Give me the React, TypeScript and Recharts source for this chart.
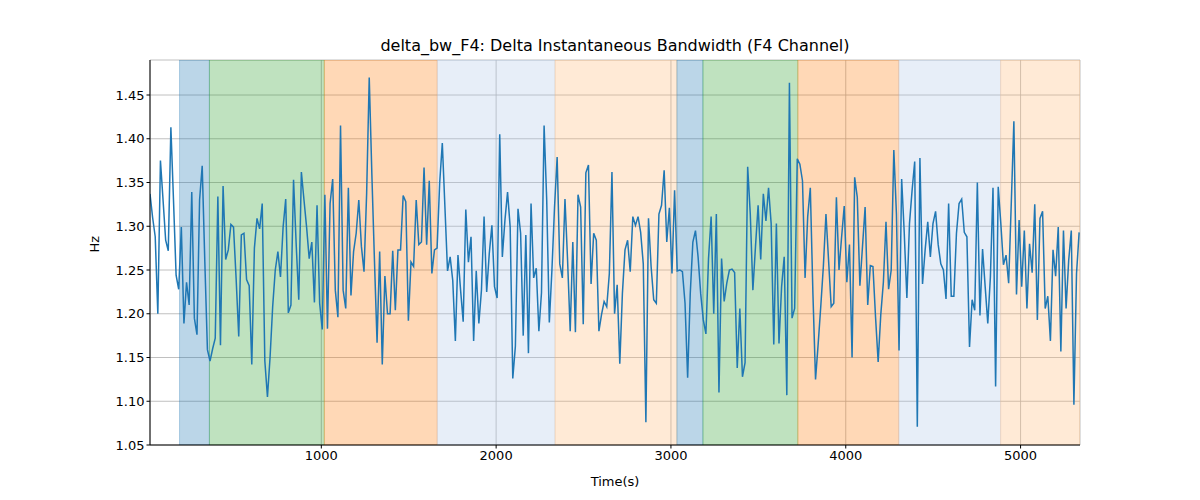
import { LineChart, Line, XAxis, YAxis, CartesianGrid, ReferenceArea } from "recharts";

// delta bandwidth values (Hz), sampled at a constant step from T_START to T_END
const T_START = 20;
const T_END = 5335;

const bwValues: number[] = [
    1.337, 1.31, 1.288, 1.2, 1.375, 1.33, 1.284, 1.272, 1.413, 1.33, 1.244, 1.228, 1.299, 1.189, 1.236, 1.21, 1.339,
    1.195, 1.176, 1.33, 1.369, 1.26, 1.159, 1.146, 1.16, 1.172, 1.334, 1.164, 1.346, 1.262, 1.273, 1.302, 1.299, 1.24,
    1.174, 1.29, 1.292, 1.239, 1.232, 1.142, 1.275, 1.309, 1.297, 1.326, 1.146, 1.105, 1.15, 1.208, 1.25, 1.271, 1.242,
    1.299, 1.331, 1.201, 1.21, 1.353, 1.28, 1.216, 1.362, 1.33, 1.299, 1.263,
    1.282, 1.213, 1.324, 1.212, 1.182, 1.336, 1.183, 1.326, 1.354, 1.227, 1.196, 1.415, 1.227, 1.206, 1.344, 1.221,
    1.271, 1.292, 1.33, 1.277, 1.248, 1.337, 1.47, 1.36, 1.261, 1.167, 1.271, 1.142, 1.243, 1.2, 1.2, 1.272, 1.204,
    1.273, 1.273, 1.335, 1.328, 1.192, 1.259, 1.254, 1.33, 1.279, 1.282, 1.367, 1.279, 1.352, 1.246, 1.273, 1.275,
    1.35, 1.395, 1.322, 1.249, 1.265, 1.238, 1.169, 1.267, 1.227, 1.191, 1.319,
    1.259, 1.288, 1.169, 1.249, 1.189, 1.227, 1.311, 1.225, 1.269, 1.301, 1.231, 1.218, 1.405, 1.265, 1.307, 1.339,
    1.299, 1.126, 1.163, 1.32, 1.292, 1.175, 1.29, 1.155, 1.326, 1.241, 1.252, 1.18, 1.224, 1.415, 1.33, 1.19,
    1.25, 1.322, 1.379, 1.257, 1.241, 1.331, 1.261, 1.18, 1.282, 1.179, 1.336, 1.322, 1.188, 1.361, 1.37, 1.234,
    1.292, 1.284, 1.18, 1.199, 1.214, 1.208, 1.246, 1.362, 1.2, 1.233, 1.143,
    1.223, 1.273, 1.284, 1.248, 1.311, 1.301, 1.311, 1.293, 1.257, 1.076, 1.309, 1.254, 1.216, 1.212, 1.314, 1.324,
    1.364, 1.282, 1.321, 1.246, 1.341, 1.249, 1.25, 1.248, 1.212, 1.127, 1.223, 1.282, 1.295, 1.265, 1.223, 1.193,
    1.177, 1.263, 1.311, 1.2, 1.314, 1.11, 1.263, 1.214, 1.235, 1.25, 1.251, 1.247, 1.138, 1.206, 1.128, 1.144,
    1.368, 1.314, 1.227, 1.277, 1.324, 1.262, 1.337, 1.306, 1.344, 1.303, 1.165,
    1.303, 1.166, 1.231, 1.265, 1.107, 1.464, 1.195, 1.206, 1.377, 1.371, 1.352, 1.241, 1.311, 1.344, 1.223, 1.125,
    1.165, 1.208, 1.254, 1.314, 1.261, 1.208, 1.212, 1.333, 1.25, 1.288, 1.323, 1.236, 1.279, 1.15, 1.356, 1.333,
    1.232, 1.277, 1.322, 1.21, 1.255, 1.254, 1.196, 1.145, 1.199, 1.236, 1.305, 1.228, 1.25, 1.387, 1.314,
    1.158, 1.354, 1.292, 1.218, 1.303, 1.341, 1.374, 1.071, 1.378, 1.234, 1.273, 1.305,
    1.265, 1.303, 1.317, 1.279, 1.257, 1.25, 1.217, 1.326, 1.22, 1.22, 1.292, 1.326, 1.331, 1.293, 1.288, 1.162,
    1.216, 1.204, 1.35, 1.198, 1.274, 1.231, 1.189, 1.242, 1.344, 1.117, 1.345, 1.303, 1.256, 1.267, 1.235, 1.326,
    1.42, 1.222, 1.307, 1.231, 1.295, 1.206, 1.28, 1.247, 1.325, 1.193, 1.309, 1.317, 1.206, 1.22,
    1.169, 1.273, 1.243, 1.299, 1.157, 1.295, 1.206, 1.261, 1.295, 1.096, 1.246, 1.293,
];

// shaded segments: [start, end, colour]
const spans: [number, number, string][] = [
    [189, 360, "#1f77b4"],
    [360, 1017, "#2ca02c"],
    [1017, 1663, "#ff7f0e"],
    [1663, 2337, "#aec7e8"],
    [2337, 3034, "#ffbb78"],
    [3034, 3183, "#1f77b4"],
    [3183, 3726, "#2ca02c"],
    [3726, 4303, "#ff7f0e"],
    [4303, 4886, "#aec7e8"],
    [4886, 5340, "#ffbb78"],
];

const xTicks = [1000, 2000, 3000, 4000, 5000];
const yTicks = [1.05, 1.1, 1.15, 1.2, 1.25, 1.3, 1.35, 1.4, 1.45];

const step = (T_END - T_START) / (bwValues.length - 1);
const data = bwValues.map((v, i) => ({ t: T_START + i * step, bw: v }));

const font = "DejaVu Sans, sans-serif";
const tick = { fontSize: 13, fill: "#000", fontFamily: font };

const App = () => {
    return (
        <div style={{ position: "absolute", left: 0, top: 0, width: 1200, height: 500, background: "#fff" }}>
            <div
                style={{
                    position: "absolute",
                    top: 36,
                    left: 150,
                    width: 930,
                    textAlign: "center",
                    fontFamily: font,
                    fontSize: 16,
                }}
            >
                delta_bw_F4: Delta Instantaneous Bandwidth (F4 Channel)
            </div>
            <LineChart width={1200} height={500} data={data} margin={{ top: 60, right: 120, bottom: 25, left: 90 }}>
                {spans.map(([a, b, c], i) => (
                    <ReferenceArea key={i} x1={a} x2={b} fill={c} fillOpacity={0.3} stroke={c} strokeOpacity={0.3} ifOverflow="hidden" />
                ))}
                <CartesianGrid stroke="#b0b0b0" strokeWidth={0.8} />
                <XAxis
                    dataKey="t"
                    type="number"
                    domain={[20, 5340]}
                    ticks={xTicks}
                    tick={tick}
                    tickSize={3.5}
                    stroke="#000"
                    allowDataOverflow
                    label={{ value: "Time(s)", position: "insideBottom", offset: -11, style: { fontSize: 13, fill: "#000", fontFamily: font } }}
                />
                <XAxis xAxisId="top" orientation="top" type="number" domain={[20, 5340]} tick={false} tickLine={false} stroke="#000" height={0} />
                <YAxis
                    type="number"
                    domain={[1.05, 1.49]}
                    ticks={yTicks}
                    tickFormatter={(v: number) => v.toFixed(2)}
                    tick={tick}
                    tickSize={3.5}
                    stroke="#000"
                    width={60}
                    allowDataOverflow
                    label={{ value: "Hz", angle: -90, position: "insideLeft", offset: 4, style: { fontSize: 13, fill: "#000", fontFamily: font } }}
                />
                <YAxis yAxisId="right" orientation="right" tick={false} tickLine={false} stroke="#000" width={0} />
                <Line dataKey="bw" stroke="#1f77b4" strokeWidth={1.5} dot={false} isAnimationActive={false} />
            </LineChart>
        </div>
    );
};

export default App;
